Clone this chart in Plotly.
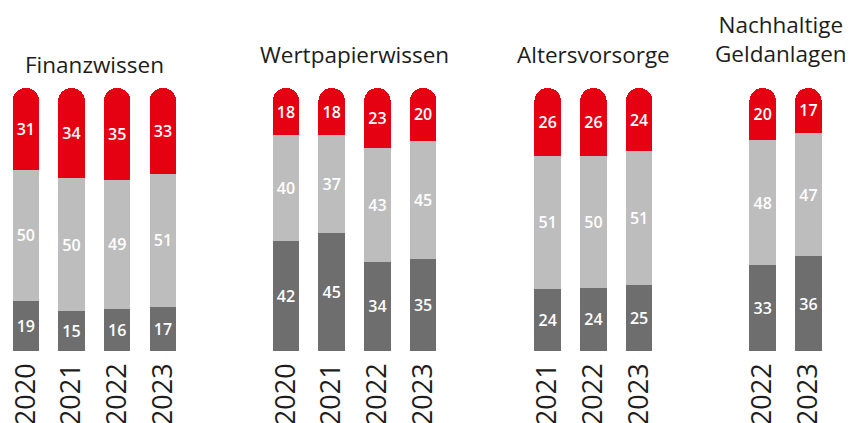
import plotly.graph_objects as go

# data
groups = ["Finanzwissen", "Wertpapierwissen", "Altersvorsorge", "Nachhaltige<br>Geldanlagen"]
years = [["2020", "2021", "2022", "2023"],
         ["2020", "2021", "2022", "2023"],
         ["2021", "2022", "2023"],
         ["2022", "2023"]]
low = [[19, 15, 16, 17], [42, 45, 34, 35], [24, 24, 25], [33, 36]]
mid = [[50, 50, 49, 51], [40, 37, 43, 45], [51, 50, 51], [48, 47]]
high = [[31, 34, 35, 33], [18, 18, 23, 20], [26, 26, 24], [20, 17]]

# layout (x in page pixel units; page body has an 8px margin)
W, H = 853, 423
PAD = 8
starts = [25.8, 286, 547.7, 762.7]
step = 45.7
bar_w = 26.5
title_shift = [(0, 24), (0, 34), (0, 34), (-5, 49)]

RED = "#e50012"
LIGHT = "#bcbdbc"
DARK = "#6e6e6e"
TXT = "#1d1d1b"

xs, ticks, lo, md, hi = [], [], [], [], []
for g in range(len(groups)):
    for i, y in enumerate(years[g]):
        xs.append(starts[g] + i * step)
        ticks.append(y)
        lo.append(low[g][i])
        md.append(mid[g][i])
        hi.append(high[g][i])

fig = go.Figure()
for vals, col in [(lo, DARK), (md, LIGHT), (hi, RED)]:
    fig.add_trace(go.Bar(
        x=xs, y=vals, width=bar_w, text=[str(v) for v in vals],
        marker=dict(color=col, line=dict(width=0)),
        textposition="inside", insidetextanchor="middle", textangle=0,
        textfont=dict(color="white", size=16, family="Open Sans", weight=600),
        hoverinfo="skip", showlegend=False))

for g, name in enumerate(groups):
    cx = starts[g] + (len(years[g]) - 1) * step / 2
    fig.add_annotation(x=cx, y=1, xref="x", yref="paper", text=name,
                       showarrow=False, yanchor="middle",
                       xshift=title_shift[g][0], yshift=title_shift[g][1],
                       font=dict(family="Open Sans", size=22.5, color=TXT))

fig.update_layout(
    width=W - PAD, height=H - PAD, barmode="stack", barnorm="percent",
    barcornerradius="50%",
    margin=dict(l=0, r=0, t=88 - PAD, b=72, autoexpand=False),
    plot_bgcolor="white", paper_bgcolor="white",
    xaxis=dict(range=[PAD, W], tickvals=xs, ticktext=ticks, tickangle=-90,
               showgrid=False, zeroline=False, showline=False, automargin=False,
               ticks="", ticklabelstandoff=6, ticklabeloverflow="allow",
               tickfont=dict(family="Open Sans", size=27, color=TXT)),
    yaxis=dict(range=[0, 100], visible=False, automargin=False),
)

fig.write_html("out.html")
